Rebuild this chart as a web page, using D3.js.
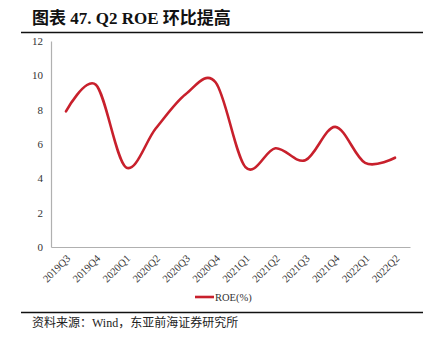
<!DOCTYPE html>
<html>
<head>
<meta charset="utf-8">
<script src="https://cdn.jsdelivr.net/npm/d3@7"></script>
<style>
  html, body { margin: 0; padding: 0; background: #fff; }
  svg { display: block; }
</style>
</head>
<body>
<script>
// Quarterly ROE series
const quarters = ["2019Q3","2019Q4","2020Q1","2020Q2","2020Q3","2020Q4","2021Q1","2021Q2","2021Q3","2021Q4","2022Q1","2022Q2"];
const roe = [7.9, 9.45, 4.65, 6.9, 8.9, 9.6, 4.65, 5.75, 5.05, 7.0, 4.9, 5.2];
const yTicks = [0, 2, 4, 6, 8, 10, 12];

const W = 435, H = 346;
const svg = d3.select("body").append("svg").attr("width", W).attr("height", H);

const serif = "'Liberation Serif', 'Times New Roman', serif";
const cjk = "'Liberation Serif', 'Noto Sans CJK SC', serif";

// Title and rules
svg.append("text")
  .attr("x", 32).attr("y", 24)
  .attr("font-family", cjk).attr("font-weight", "bold").attr("font-size", 17)
  .attr("fill", "#111")
  .text("图表 47. Q2 ROE 环比提高");
svg.append("line").attr("x1", 21).attr("x2", 423).attr("y1", 32.5).attr("y2", 32.5)
  .attr("stroke", "#111").attr("stroke-width", 1.5);
svg.append("line").attr("x1", 21).attr("x2", 423).attr("y1", 312.5).attr("y2", 312.5)
  .attr("stroke", "#111").attr("stroke-width", 1.5);
svg.append("text")
  .attr("x", 32).attr("y", 327)
  .attr("font-family", cjk).attr("font-size", 12)
  .attr("fill", "#222")
  .text("资料来源：Wind，东亚前海证券研究所");

// Scales
const x = d3.scaleBand().domain(quarters).range([51, 410]);
const y = d3.scaleLinear().domain([0, 12]).range([247, 41]);

// Y axis
const yAxis = svg.append("g").attr("transform", "translate(51,0)")
  .call(d3.axisLeft(y).tickValues(yTicks).tickSize(0).tickPadding(8));
yAxis.select(".domain").attr("stroke", "#b0b0b0").attr("stroke-width", 1.2);
yAxis.selectAll("text").attr("font-family", serif).attr("font-size", 11).attr("fill", "#333");

// X axis
const xAxis = svg.append("g").attr("transform", "translate(0,247)")
  .call(d3.axisBottom(x).tickSize(0));
xAxis.select(".domain").attr("stroke", "#b0b0b0").attr("stroke-width", 1.2);
xAxis.selectAll("text")
  .attr("font-family", serif).attr("font-size", 10.5).attr("fill", "#333")
  .attr("text-anchor", "end")
  .attr("dy", 0)
  .attr("transform", "translate(3,10) rotate(-45)");

// Smoothed line
const line = d3.line()
  .x((d, i) => x(quarters[i]) + x.bandwidth() / 2)
  .y(d => y(d))
  .curve(d3.curveCardinal.tension(0));

svg.append("path").datum(roe)
  .attr("d", line)
  .attr("fill", "none")
  .attr("stroke", "#c8202c")
  .attr("stroke-width", 2.6)
  .attr("stroke-linecap", "round");

// Legend
const lg = svg.append("g").attr("transform", "translate(195,297)");
lg.append("line").attr("x1", 0).attr("x2", 19).attr("y1", 0).attr("y2", 0)
  .attr("stroke", "#c8202c").attr("stroke-width", 2.6);
lg.append("text").attr("x", 20).attr("y", 4)
  .attr("font-family", serif).attr("font-size", 10.5).attr("fill", "#333")
  .text("ROE(%)");
</script>
</body>
</html>
